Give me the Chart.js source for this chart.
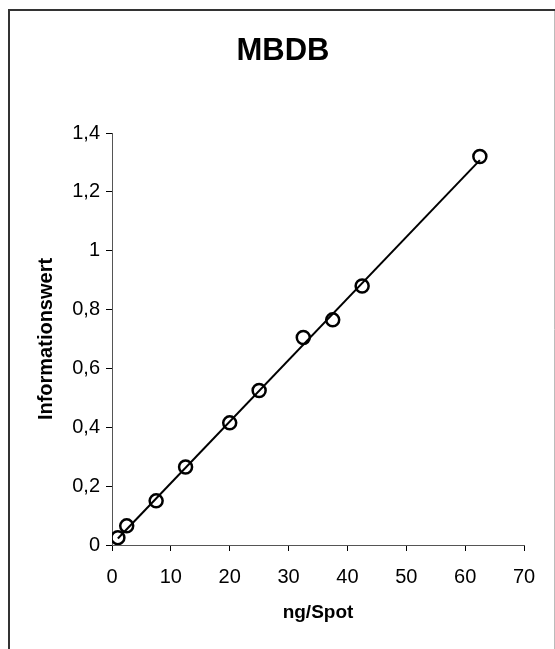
<!DOCTYPE html>
<html>
<head>
<meta charset="utf-8">
<script src="https://cdn.jsdelivr.net/npm/chart.js@4.4.1/dist/chart.umd.min.js"></script>
<style>
  html, body { margin: 0; padding: 0; background: #fff; }
  #wrap { width: 555px; height: 649px; position: relative; }
</style>
</head>
<body>
<div id="wrap"><canvas id="chart" width="555" height="649"></canvas></div>
<script>
// measured points
var ngSpot = [1, 2.5, 7.5, 12.5, 20, 25, 32.5, 37.5, 42.5, 62.5];
var infoWert = [0.025, 0.065, 0.15, 0.265, 0.415, 0.525, 0.705, 0.765, 0.88, 1.32];

// trend line ends
var trendX = [1, 62.5];
var trendY = [0.022, 1.308];

var pts = ngSpot.map(function (x, i) { return {x: x, y: infoWert[i]}; });
var trend = trendX.map(function (x, i) { return {x: x, y: trendY[i]}; });

var fontFam = "'Liberation Sans', Arial, sans-serif";

// frame around the chart
var framePlugin = {
  id: 'frame',
  afterDraw: function (chart) {
    var c = chart.ctx;
    c.save();
    c.strokeStyle = '#bbb';
    c.lineWidth = 1;
    c.beginPath(); c.moveTo(554.5, 10); c.lineTo(554.5, 649); c.stroke();
    c.strokeStyle = '#333';
    c.lineWidth = 2;
    c.beginPath(); c.moveTo(9, 649); c.lineTo(9, 10); c.lineTo(555, 10); c.stroke();
    c.restore();
  }
};

new Chart("chart", {
  type: "scatter",
  data: {
    datasets: [{
      label: "Trend",
      data: trend,
      showLine: true,
      borderColor: "#000",
      borderWidth: 2,
      pointRadius: 0,
      order: 2
    }, {
      label: "MBDB",
      data: pts,
      showLine: false,
      pointStyle: "circle",
      pointRadius: 6.5,
      pointBorderWidth: 2.5,
      pointBorderColor: "#000",
      pointBackgroundColor: "rgba(0,0,0,0)",
      order: 1
    }]
  },
  options: {
    responsive: false,
    animation: false,
    layout: {padding: {left: 11, right: 0, top: 0, bottom: 0}},
    plugins: {
      legend: {display: false},
      tooltip: {enabled: false},
      title: {
        display: true,
        text: "MBDB",
        color: "#000",
        font: {family: fontFam, size: 31, weight: "bold"},
        padding: {top: 33, bottom: 62.8}
      }
    },
    scales: {
      x: {
        type: "linear",
        min: 0, max: 70,
        afterFit: function (s) { s.height = 104; },
        ticks: {stepSize: 10, color: "#000", padding: 14, font: {family: fontFam, size: 20}},
        grid: {drawOnChartArea: false, tickLength: 6, color: "#000"},
        border: {color: "#555", width: 1},
        title: {
          display: true, text: "ng/Spot", color: "#000",
          font: {family: fontFam, size: 19, weight: "bold"},
          padding: {top: 0, bottom: 25}
        }
      },
      y: {
        min: 0, max: 1.4,
        afterFit: function (s) { s.width = 101; },
        ticks: {
          stepSize: 0.2, color: "#000", padding: 6,
          font: {family: fontFam, size: 20},
          callback: function (v) { return Number(v.toFixed(1)).toString().replace('.', ','); }
        },
        grid: {drawOnChartArea: false, tickLength: 6, color: "#000"},
        border: {color: "#555", width: 1},
        title: {
          display: true, text: "Informationswert", color: "#000",
          font: {family: fontFam, size: 20, weight: "bold"},
          padding: {top: 23.5, bottom: 0}
        }
      },
      // empty right-hand spacer so the title centres over the whole frame
      yRight: {
        type: "linear",
        position: "right",
        min: 0, max: 1.4,
        afterFit: function (s) { s.width = 31; },
        ticks: {display: false},
        grid: {display: false},
        border: {display: false}
      }
    }
  },
  plugins: [framePlugin]
});
</script>
</body>
</html>
